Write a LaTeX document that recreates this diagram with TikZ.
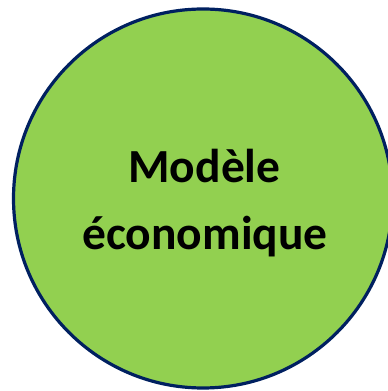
\documentclass[tikz,border=0pt]{standalone}
\usepackage{fontspec}
\setmainfont{Carlito}
\definecolor{leafgreen}{HTML}{92D050}
\definecolor{navyline}{HTML}{002060}
\tikzset{
    disc/.style={draw=navyline, fill=leafgreen, line width=3.2pt, circle, minimum size=379pt, inner sep=0pt},
    title/.style={font=\fontsize{47.5}{57}\selectfont\bfseries, inner sep=0pt, anchor=base}
}
\begin{document}
\begin{tikzpicture}[x=1pt,y=1pt]
                \useasboundingbox (0,0) rectangle (388,391);
                \node[disc] (M) at (203,192.5) {};
                \node[title] (A) at (204.5,208) {Modèle};
                \node[title] (B) at (205,141) {économique};
            \end{tikzpicture}
\end{document}
